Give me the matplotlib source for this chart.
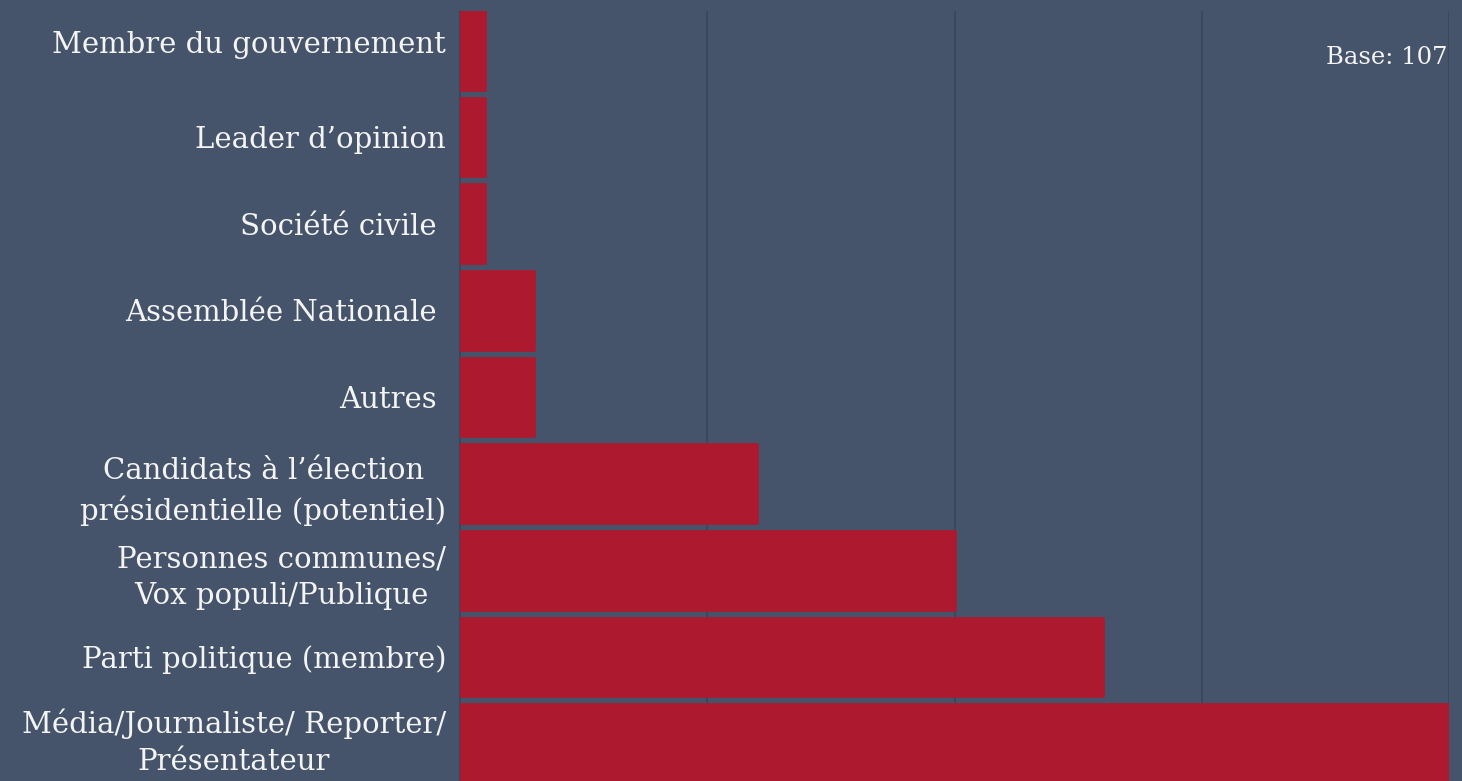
import matplotlib.pyplot as plt
from matplotlib.transforms import ScaledTranslation

# categories listed top to bottom, counts (base 107)
categories = [
    'Membre du gouvernement',
    'Leader d\u2019opinion',
    'Société civile ',
    'Assemblée Nationale ',
    'Autres ',
    'Candidats à l\u2019élection\nprésidentielle (potentiel)',
    'Personnes communes/\nVox populi/Publique',
    'Parti politique (membre)',
    'Média/Journaliste/ Reporter/\nPrésentateur',
]
counts = [1, 1, 1, 3, 3, 12, 20, 26, 40]
base_label = 'Base: 107'

BG = '#45546a'
BAR = '#ad1a30'
GRID = '#36455a'
TEXT = '#f4f4f4'

fig = plt.figure(figsize=(14.62, 7.81), dpi=100, facecolor=BG)
ax = fig.add_axes([460 / 1462, -2 / 781, (1449 - 460) / 1462, (783 - 11) / 781])
ax.set_facecolor(BG)

ypos = list(range(len(categories)))[::-1]
ax.barh(ypos, counts, height=0.91, color=BAR, edgecolor=BAR,
        linewidth=2, joinstyle='round', zorder=3)

ax.set_xlim(0, 40)
ax.set_ylim(-0.455, len(categories) - 0.545)
ax.set_xticks([0, 10, 20, 30, 40])
ax.xaxis.grid(True, color=GRID, linewidth=1.1, zorder=0)
ax.tick_params(axis='x', length=0, labelbottom=False)

ax.set_yticks(ypos)
labels = ax.set_yticklabels(categories, fontsize=21, color=TEXT,
                            family='DejaVu Serif', multialignment='center',
                            linespacing=1.4)
ax.tick_params(axis='y', length=0, pad=10)


def nudge(label, dy_px):
    label.set_transform(label.get_transform()
                        + ScaledTranslation(0, dy_px / 100, fig.dpi_scale_trans))


nudge(labels[0], 8)    # top label sits a little high in the reference
nudge(labels[-1], 9)   # keep the bottom two-line label inside the figure

for side in ('top', 'right', 'bottom'):
    ax.spines[side].set_visible(False)
ax.spines['left'].set_color(GRID)
ax.spines['left'].set_linewidth(1.1)

ax.text(0.998, 1 - 46 / 772, base_label, transform=ax.transAxes, ha='right',
        va='center', fontsize=17.5, color=TEXT, family='DejaVu Serif')

fig.savefig('out.png', dpi=100, facecolor=BG)
